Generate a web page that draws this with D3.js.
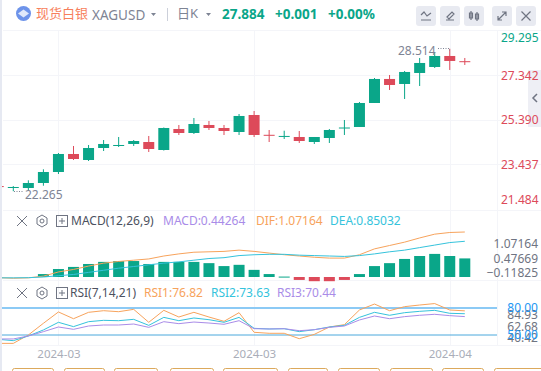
<!DOCTYPE html>
<html>
<head>
<meta charset="utf-8">
<script src="https://cdn.jsdelivr.net/npm/d3@7"></script>
<style>
    html, body { margin: 0; padding: 0; background: #fff; overflow: hidden; }
    svg { display: block; }
    text { font-family: "Noto Sans", "Noto Sans CJK SC", sans-serif; }
    .axis .domain { display: none; }
</style>
</head>
<body>
<div id="chart"></div>
<script>
// daily candles, first one is cut by the left edge
var open = [22.49, 22.42, 22.405, 22.625, 23.108, 23.898, 23.634, 24.161, 24.249, 24.337, 24.424, 24.073, 24.995, 24.819, 25.171, 25.039, 24.863, 25.609, 24.74, 24.67, 24.644, 24.424, 24.6, 25.02, 25.083, 26.136, 27.19, 26.97, 27.453, 27.716, 28.199, 27.97];
var close = [22.47, 22.45, 22.625, 23.108, 23.898, 23.678, 24.161, 24.337, 24.293, 24.468, 24.117, 25.039, 24.819, 25.214, 25.039, 24.907, 25.566, 24.732, 24.72, 24.69, 24.468, 24.644, 24.951, 25.06, 26.136, 27.19, 26.926, 27.497, 27.892, 28.199, 27.98, 27.96];
var high = [22.55, 22.49, 22.743, 23.226, 23.942, 24.249, 24.293, 24.512, 24.644, 24.512, 24.688, 25.06, 25.171, 25.478, 25.346, 25.171, 25.653, 25.785, 24.951, 24.92, 24.907, 24.644, 24.995, 25.39, 26.18, 27.233, 27.365, 27.541, 28.111, 28.331, 28.514, 28.111];
var low = [22.40, 22.265, 22.287, 22.506, 23.02, 23.634, 23.59, 24.029, 24.205, 24.249, 23.986, 24.05, 24.732, 24.776, 24.951, 24.732, 24.732, 24.644, 24.424, 24.556, 24.381, 24.337, 24.381, 24.732, 25.083, 26.136, 26.707, 26.312, 26.882, 27.672, 27.585, 27.804];

var macdBars = [0, 0, 0, 0.07, 0.19, 0.24, 0.31, 0.36, 0.38, 0.38, 0.31, 0.36, 0.36, 0.36, 0.33, 0.26, 0.29, 0.17, 0.07, 0.01, -0.07, -0.1, -0.1, -0.07, 0.07, 0.26, 0.33, 0.43, 0.5, 0.55, 0.5, 0.44264];
var difLine = [-0.016, -0.03, -0.02, 0.02, 0.12, 0.18, 0.26, 0.33, 0.37, 0.40, 0.43, 0.50, 0.55, 0.59, 0.60, 0.61, 0.64, 0.61, 0.57, 0.53, 0.50, 0.47, 0.45, 0.45, 0.53, 0.67, 0.75, 0.83, 0.93, 1.02, 1.06, 1.07164];
var deaLine = [-0.02, -0.02, -0.016, 0, 0.03, 0.06, 0.11, 0.16, 0.21, 0.25, 0.29, 0.33, 0.36, 0.40, 0.44, 0.46, 0.51, 0.53, 0.54, 0.54, 0.52, 0.51, 0.50, 0.49, 0.51, 0.55, 0.60, 0.64, 0.70, 0.76, 0.82, 0.85032];

var rsi1 = [40.7, 40.7, 50, 63, 75.6, 68.1, 75.2, 77, 75.9, 78.5, 64.1, 77.4, 70, 75.2, 70, 65.2, 74.8, 53, 51.9, 51.9, 45.9, 50.7, 58.9, 61.5, 77.8, 84.4, 77, 81.5, 83.3, 84.93, 77.8, 76.82];
var rsi2 = [45.2, 43.7, 48.9, 55.6, 64.1, 59.3, 64.8, 66.3, 65.9, 67.4, 60.7, 69.6, 65.9, 68.9, 67, 64.1, 69.6, 57.4, 56.7, 57, 53.7, 55.9, 58.9, 60.7, 69.6, 75.2, 71.9, 74.8, 76.3, 77.4, 74.1, 73.63];
var rsi3 = [45.6, 45.6, 48.9, 53.7, 58.9, 56.3, 60, 61.1, 61.1, 62.2, 58.5, 64.8, 62.6, 64.4, 63.3, 61.9, 65.9, 57, 56.7, 57, 54.8, 55.9, 58.5, 60, 66.7, 71.1, 68.1, 70.4, 71.9, 73, 71.5, 70.44];

var priceTicks = [29.295, 27.342, 25.390, 23.437, 21.484];
var macdTicks = [1.07164, 0.47669, -0.11825];
var rsiTicks = [84.93, 62.68, 40.42];
var rsiLevels = [80, 50];
var dateTickIndex = [4, 17, 30];
var dateTickLabels = ["2024-03", "2024-03", "2024-04"];

var width = 541, height = 371;
var upColor = "#0aa689", downColor = "#dd4a5a";
var gridColor = "#f4f5f9";
var orange = "#f7a35c", blue = "#35c3dc", purple = "#a98ce8";
var index = d3.range(open.length);

var svg = d3.select("#chart").append("svg")
    .attr("width", width)
    .attr("height", height);

var x = d3.scaleLinear().domain([1, 31]).range([13.3, 464.8]);
var yPrice = d3.scaleLinear().domain([21.484, 29.295]).range([209, 31]);
var yMacd = d3.scaleLinear().domain([0, 1.07164]).range([277, 232]);
var yRsi = d3.scaleLinear().domain([50, 80]).range([335, 308]);

// axis labels get pushed inside each pane, so they have their own scales
var yPriceLabel = d3.scaleLinear().domain(priceTicks).range([38, 76, 120, 165, 200]);
var yMacdLabel = d3.scaleLinear().domain([macdTicks[0], macdTicks[2]]).range([244, 273]);
var yRsiLabel = d3.scaleLinear().domain([rsiTicks[0], rsiTicks[2]]).range([315, 338]);

svg.append("defs").append("clipPath").attr("id", "plot")
    .append("rect").attr("x", 2).attr("y", 31).attr("width", 495).attr("height", 315);

// page background, left strip
svg.append("rect").attr("width", 2).attr("height", height).attr("fill", "#e6e9f2");

// grid
var grid = svg.append("g").attr("stroke", gridColor).attr("fill", "none");
[30.5, 75.5, 120.5, 164.5, 210.5, 280.5, 345.5].forEach(function (d) {
    grid.append("line").attr("x1", 3).attr("x2", width).attr("y1", d).attr("y2", d);
});
dateTickIndex.forEach(function (d) {
    grid.append("line").attr("x1", Math.round(x(d)) + 0.5).attr("x2", Math.round(x(d)) + 0.5)
        .attr("y1", 31).attr("y2", 346);
});
grid.append("line").attr("x1", 497.5).attr("x2", 497.5).attr("y1", 31).attr("y2", 346);

var plot = svg.append("g").attr("clip-path", "url(#plot)");

// candles
var candle = plot.append("g").selectAll("g")
    .data(index)
    .enter()
    .append("g")
    .attr("fill", function (i) { return close[i] >= open[i] ? upColor : downColor; });

candle.append("rect")
    .attr("x", function (i) { return x(i) - 0.5; })
    .attr("width", 1)
    .attr("y", function (i) { return yPrice(high[i]); })
    .attr("height", function (i) { return yPrice(low[i]) - yPrice(high[i]); });

candle.append("rect")
    .attr("x", function (i) { return x(i) - 5.5; })
    .attr("width", 11)
    .attr("y", function (i) { return yPrice(Math.max(open[i], close[i])); })
    .attr("height", function (i) { return Math.max(1, Math.abs(yPrice(open[i]) - yPrice(close[i]))); });

// high and low labels
svg.append("text").attr("x", 25).attr("y", 199).attr("font-size", 12).attr("fill", "#7e8494").text("22.265");
svg.append("text").attr("x", 398).attr("y", 55).attr("font-size", 12).attr("fill", "#7e8494").text("28.514");
svg.append("path").attr("d", "M14 191.5V191.5M14 191.5H23").attr("stroke", "#7e8494").attr("stroke-dasharray", "1 1.5").attr("fill", "none");
svg.append("path").attr("d", "M438 48.5H449.5V52").attr("stroke", "#7e8494").attr("stroke-dasharray", "1 1.5").attr("fill", "none");

// macd pane
plot.append("g").selectAll("rect")
    .data(index.filter(function (i) { return macdBars[i] !== 0; }))
    .enter()
    .append("rect")
    .attr("x", function (i) { return x(i) - 5.5; })
    .attr("width", 11)
    .attr("y", function (i) { return Math.min(yMacd(macdBars[i]), yMacd(0)); })
    .attr("height", function (i) { return Math.max(1, Math.abs(yMacd(macdBars[i]) - yMacd(0))); })
    .attr("fill", function (i) { return macdBars[i] >= 0 ? upColor : downColor; });

function drawLine(values, yScale, color) {
    var line = d3.line()
        .x(function (i) { return x(i); })
        .y(function (i) { return yScale(values[i]); });
    plot.append("path")
        .attr("d", line(index))
        .attr("fill", "none")
        .attr("stroke", color)
        .attr("stroke-width", 1);
}
drawLine(difLine, yMacd, orange);
drawLine(deaLine, yMacd, blue);

// rsi pane
plot.append("line").attr("x1", 2).attr("x2", 497).attr("y1", yRsi(rsiLevels[0])).attr("y2", yRsi(rsiLevels[0]))
    .attr("stroke", "#8ccaf5").attr("stroke-width", 2);
plot.append("line").attr("x1", 2).attr("x2", 497).attr("y1", yRsi(rsiLevels[1])).attr("y2", yRsi(rsiLevels[1]))
    .attr("stroke", "#4aa8dc").attr("stroke-width", 1);
drawLine(rsi1, yRsi, orange);
drawLine(rsi2, yRsi, blue);
drawLine(rsi3, yRsi, purple);

// collapse tab on the right side, sits under the price labels
svg.append("rect").attr("x", 528).attr("y", 70).attr("width", 13).attr("height", 57).attr("fill", "#eeeff5");

// right axes
function rightAxis(scale, ticks, format, color) {
    var g = svg.append("g")
        .attr("class", "axis")
        .attr("transform", "translate(498,0)")
        .call(d3.axisRight(scale).tickValues(ticks).tickSize(0).tickPadding(3).tickFormat(format));
    g.selectAll("text").attr("font-size", 12).attr("fill", color);
    return g;
}
rightAxis(yPriceLabel, priceTicks, d3.format(".3f"), function (d) { return d === 29.295 ? upColor : downColor; });
rightAxis(yMacdLabel, macdTicks, d3.format(".5f"), "#6f7482").selectAll("text").attr("x", 40).attr("text-anchor", "end");
rightAxis(yRsiLabel, rsiTicks, d3.format(".2f"), "#6f7482").selectAll("text").attr("x", 40).attr("text-anchor", "end");
rightAxis(yRsi, rsiLevels, d3.format(".2f"), "#2196f3").selectAll("text").attr("x", 40).attr("text-anchor", "end");

svg.append("path").attr("d", "M537 94L533 98L537 102").attr("fill", "none").attr("stroke", "#6f7482").attr("stroke-width", 1.5);

// date axis
var xAxis = svg.append("g")
    .attr("class", "axis")
    .attr("transform", "translate(0,347)")
    .call(d3.axisBottom(x).tickValues(dateTickIndex).tickSize(0).tickPadding(3)
        .tickFormat(function (d, i) { return dateTickLabels[i]; }));
xAxis.selectAll("text").attr("font-size", 11.5).attr("fill", "#a9adb8");

// header
var header = svg.append("g");
header.append("circle").attr("cx", 23.5).attr("cy", 13.5).attr("r", 7.5).attr("fill", "#6d93ea");
header.append("path").attr("d", "M18 13.5L23.5 9.5L29 13.5L23.5 17.5Z").attr("fill", "#dfe8fb");
function label(parent, xPos, yPos, str, color, size, weight) {
    return parent.append("text").attr("x", xPos).attr("y", yPos)
        .attr("font-size", size).attr("font-weight", weight || 400).attr("fill", color).text(str);
}
label(header, 36, 18, "现货白银", "#f77f5c", 13);
label(header, 92, 19.5, "XAGUSD", "#7e8494", 13.5);
label(header, 177, 18, "日K", "#7e8494", 13);
label(header, 222, 18.5, "27.884", upColor, 13.5, 700);
label(header, 275, 18.5, "+0.001", upColor, 13.5, 700);
label(header, 328, 18.5, "+0.00%", upColor, 13.5, 700);
header.append("path").attr("d", "M151 13h5l-2.5 3z M206 13h5l-2.5 3z").attr("fill", "#7e8494");
header.append("line").attr("x1", 167.5).attr("x2", 167.5).attr("y1", 8).attr("y2", 21).attr("stroke", "#ccd0da");

var buttons = [416, 440, 464, 492, 516];
var buttonIcons = [
    "M5 14H15M5 9L8 6L11 10L15 7",
    "M6 14H14M7 11L12 6L14 8L9 13Z",
    "M7 5V14M13 6V15M5.5 7H8.5V12H5.5ZM11.5 8H14.5V13H11.5Z",
    "M6 14L14 6M10 6H14V10M6 10V14H10",
    "M5.5 5.5L14.5 14.5M14.5 5.5L5.5 14.5"
];
buttons.forEach(function (b, i) {
    var g = svg.append("g").attr("transform", "translate(" + b + ",6)");
    g.append("rect").attr("width", 20).attr("height", 20).attr("rx", 3).attr("fill", "#e8eaf1");
    g.append("path").attr("d", buttonIcons[i]).attr("fill", "none").attr("stroke", "#6f7482").attr("stroke-width", 1.2);
});

// pane legends
function paneIcons(yMid) {
    var g = svg.append("g").attr("fill", "none").attr("stroke", "#6f7482").attr("stroke-width", 1);
    g.append("path").attr("d", "M17 " + (yMid - 5) + "L27 " + (yMid + 5) + "M27 " + (yMid - 5) + "L17 " + (yMid + 5));
    g.append("path").attr("d", "M42 " + (yMid - 6) + "L47 " + (yMid - 3) + "V" + (yMid + 3) + "L42 " + (yMid + 6) + "L37 " + (yMid + 3) + "V" + (yMid - 3) + "Z");
    g.append("circle").attr("cx", 42).attr("cy", yMid).attr("r", 2);
    g.append("rect").attr("x", 56.5).attr("y", yMid - 5.5).attr("width", 11).attr("height", 11);
    g.append("path").attr("d", "M59 " + yMid + "H65M62 " + (yMid - 3) + "V" + (yMid + 3));
}
paneIcons(221);
paneIcons(293);
label(svg, 71, 225, "MACD(12,26,9)", "#4c5160", 12);
label(svg, 163, 225, "MACD:0.44264", purple, 12);
label(svg, 256, 225, "DIF:1.07164", orange, 12);
label(svg, 330, 225, "DEA:0.85032", blue, 12);
label(svg, 70, 297, "RSI(7,14,21)", "#4c5160", 12);
label(svg, 144, 297, "RSI1:76.82", orange, 12);
label(svg, 211, 297, "RSI2:73.63", blue, 12);
label(svg, 277, 297, "RSI3:70.44", purple, 12);

// tops of the quick buttons below the chart
[[12, 41], [64, 40], [114, 43], [170, 43], [223, 54], [288, 39], [338, 41], [390, 42], [442, 41], [494, 60]].forEach(function (d) {
    svg.append("rect").attr("x", d[0] + 0.5).attr("y", 368.5).attr("width", d[1]).attr("height", 12).attr("rx", 2)
        .attr("fill", "none").attr("stroke", "#dca95c");
});
</script>
</body>
</html>
